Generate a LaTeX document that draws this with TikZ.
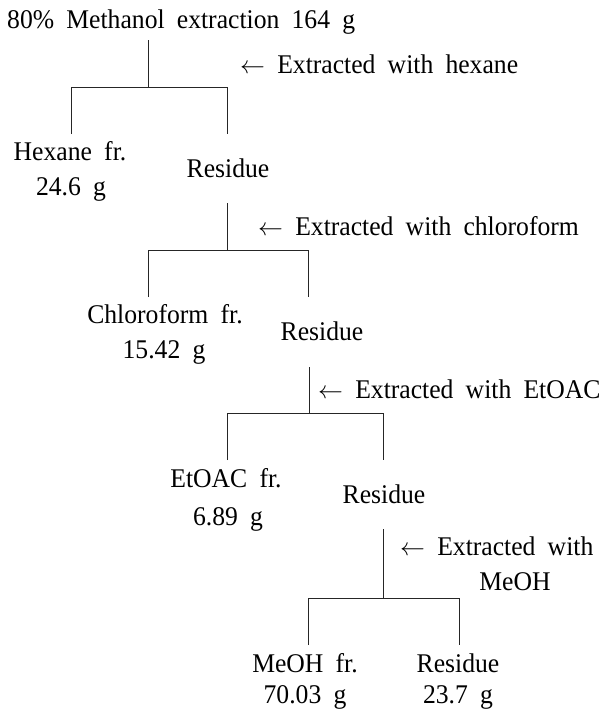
\documentclass[tikz,border=0pt]{standalone}
\usepackage{fontspec}
\setmainfont[FakeStretch=0.95,WordSpace=1.9]{Liberation Serif}
\newcommand{\larr}{{\fontsize{25}{28}\selectfont$\leftarrow$}}
\begin{document}
\begin{tikzpicture}[x=1pt,y=-1pt,
  txt/.style={inner sep=0pt,anchor=base,font=\fontsize{27}{30}\selectfont},
  txtw/.style={txt,anchor=base west},
  ln/.style={line width=0.8pt,black!85}]
\useasboundingbox (0,0) rectangle (599,713);
% texts
\node[txtw] (title) at (7,28) {80\% Methanol extraction 164 g};
\node[txtw] (ext1) at (240,73) {\larr{} Extracted with hexane};
\node[txt] (hexA) at (70,160) {Hexane fr.};
\node[txt] (hexB) at (71,195) {24.6 g};
\node[txt] (res1) at (228,177) {Residue};
\node[txtw] (ext2) at (258,235) {\larr{} Extracted with chloroform};
\node[txt] (chlA) at (165,323) {Chloroform fr.};
\node[txt] (chlB) at (164,358) {15.42 g};
\node[txt] (res2) at (322,340) {Residue};
\node[txtw] (ext3) at (318,398) {\larr{} Extracted with EtOAC};
\node[txt] (etA) at (226,487) {EtOAC fr.};
\node[txt] (etB) at (228,525) {6.89 g};
\node[txt] (res3) at (384,503) {Residue};
\node[txtw] (ext4) at (400,555) {\larr{} Extracted with};
\node[txt] (ext4b) at (515,590) {MeOH};
\node[txt] (meA) at (305,672) {MeOH fr.};
\node[txt] (meB) at (305,703) {70.03 g};
\node[txt] (res4) at (458,672) {Residue};
\node[txt] (res4b) at (458,703) {23.7 g};
% junction points
\coordinate (s1) at (148,40);   \coordinate (j1) at (148,87);
\coordinate (l1) at (71,87);    \coordinate (r1) at (227,87);
\coordinate (l1e) at (71,134);  \coordinate (r1e) at (227,134);
\coordinate (s2) at (227,203);  \coordinate (j2) at (227,250);
\coordinate (l2) at (148,250);  \coordinate (r2) at (308,250);
\coordinate (l2e) at (148,297); \coordinate (r2e) at (308,297);
\coordinate (s3) at (309,367);  \coordinate (j3) at (309,413);
\coordinate (l3) at (227,413);  \coordinate (r3) at (383,413);
\coordinate (l3e) at (227,460); \coordinate (r3e) at (383,460);
\coordinate (s4) at (383,529);  \coordinate (j4) at (383,598);
\coordinate (l4) at (308,598);  \coordinate (r4) at (459,598);
\coordinate (l4e) at (308,645); \coordinate (r4e) at (459,645);
% connectors
\draw[ln] (s1) -- (j1);
\draw[ln] (l1e) -- (l1) -- (r1) -- (r1e);
\draw[ln] (s2) -- (j2);
\draw[ln] (l2e) -- (l2) -- (r2) -- (r2e);
\draw[ln] (s3) -- (j3);
\draw[ln] (l3e) -- (l3) -- (r3) -- (r3e);
\draw[ln] (s4) -- (j4);
\draw[ln] (l4e) -- (l4) -- (r4) -- (r4e);
\end{tikzpicture}
\end{document}
